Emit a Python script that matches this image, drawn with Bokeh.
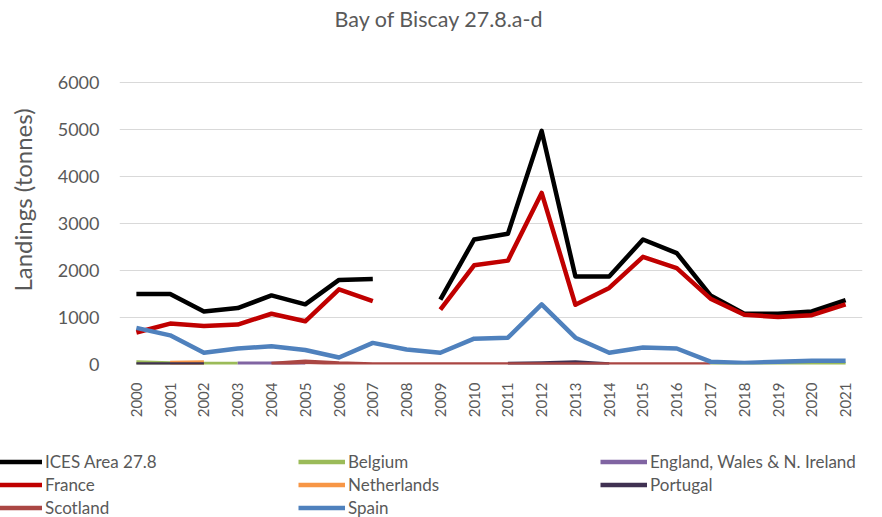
import math
from bokeh.plotting import figure
from bokeh.layouts import column
from bokeh.models import (ColumnDataSource, FactorRange, Range1d, Legend, LegendItem, Title,
                          FixedTicker)
from bokeh.embed import file_html
from bokeh.resources import INLINE

NaN = float("nan")

years = [str(y) for y in range(2000, 2022)]
yticks = [0, 1000, 2000, 3000, 4000, 5000, 6000]
ices = [1500, 1500, 1130, 1200, 1470, 1280, 1800, 1820, NaN, 1380, 2660, 2780,
        4970, 1870, 1870, 2660, 2370, 1470, 1080, 1080, 1130, 1370]
france = [680, 870, 820, 850, 1080, 920, 1600, 1350, NaN, 1170, 2110, 2210,
          3650, 1270, 1630, 2290, 2050, 1400, 1060, 1010, 1050, 1280]
spain = [780, 620, 250, 340, 390, 310, 150, 460, 320, 250, 550, 570,
         1280, 570, 250, 360, 340, 60, 30, 60, 80, 80]
belgium = [40, 20, 10, 10, NaN, NaN, NaN, NaN, NaN, NaN, NaN, NaN,
           NaN, NaN, NaN, NaN, NaN, 5, 5, 5, 10, 10]
netherlands = [NaN, 30, 40, NaN, NaN, NaN, NaN, NaN, NaN, NaN, NaN, NaN,
               NaN, NaN, NaN, NaN, NaN, NaN, NaN, NaN, NaN, NaN]
england = [NaN, NaN, NaN, 15, 15, 10, NaN, NaN, NaN, NaN, NaN, NaN,
           NaN, NaN, NaN, NaN, NaN, NaN, NaN, NaN, NaN, NaN]
portugal = [0, 0, 0, NaN, NaN, NaN, NaN, NaN, NaN, NaN, NaN, 10,
            20, 40, 0, NaN, NaN, NaN, NaN, NaN, NaN, NaN]
scotland = [NaN, NaN, NaN, NaN, 10, 60, 20, 0, 0, 0, 0, 0,
            0, 0, 0, 0, 0, 0, NaN, NaN, NaN, NaN]

series = [
    ("ICES Area 27.8", ices, "#000000"),
    ("Belgium", belgium, "#9BBB59"),
    ("England, Wales & N. Ireland", england, "#8064A2"),
    ("France", france, "#C00000"),
    ("Netherlands", netherlands, "#F79646"),
    ("Portugal", portugal, "#403152"),
    ("Scotland", scotland, "#AA4643"),
    ("Spain", spain, "#4F81BD"),
]

FONT = "Lato"
GREY = "#595959"

p = figure(width=882, height=440, x_range=FactorRange(*years), y_range=Range1d(0, 7000),
           output_backend="svg", toolbar_location=None,
           min_border_left=119, min_border_right=20, min_border_top=33, min_border_bottom=76)
p.outline_line_color = None
p.background_fill_color = "white"
p.border_fill_color = "white"

# legend strip below the chart (its lines sit outside its visible y window)
leg = figure(width=882, height=77, x_range=FactorRange(*years), y_range=Range1d(100000, 200000),
             output_backend="svg", toolbar_location=None, frame_align=False,
             min_border_left=0, min_border_right=0, min_border_top=0, min_border_bottom=0)
leg.axis.visible = False
leg.grid.visible = False
leg.outline_line_color = None

leg_r = {}
for name, vals, col in series:
    src = ColumnDataSource(dict(x=years, y=vals))
    p.line("x", "y", source=src, line_color=col, line_width=4.5, line_join="round")
    leg_r[name] = leg.line("x", "y", source=src, line_color=col, line_width=4.5)

# axes
p.yaxis.ticker = FixedTicker(ticks=yticks)
p.yaxis.axis_line_color = None
p.yaxis.major_tick_line_color = None
p.yaxis.minor_tick_line_color = None
p.yaxis.major_label_text_font = FONT
p.yaxis.major_label_text_font_size = "18px"
p.yaxis.major_label_text_color = GREY
p.yaxis.major_label_standoff = 14
p.yaxis.axis_label = "Landings (tonnes)"
p.yaxis.axis_label_text_font = FONT
p.yaxis.axis_label_text_font_size = "24px"
p.yaxis.axis_label_text_font_style = "normal"
p.yaxis.axis_label_text_color = GREY
p.yaxis.axis_label_standoff = 18

p.xaxis.axis_line_color = None
p.xaxis.major_tick_line_color = None
p.xaxis.minor_tick_line_color = None
p.xaxis.major_label_orientation = math.pi / 2
p.xaxis.major_label_text_font = FONT
p.xaxis.major_label_text_font_size = "15px"
p.xaxis.major_label_text_color = GREY
p.xaxis.major_label_standoff = 12

p.xgrid.grid_line_color = None
p.ygrid.grid_line_color = "#D9D9D9"
p.ygrid.grid_line_width = 1

p.title = Title(text="Bay of Biscay 27.8.a-d", align="left", offset=215,
                text_font=FONT, text_font_size="21.5px", text_font_style="normal",
                text_color=GREY, standoff=7)

cols = [
    (["ICES Area 27.8", "France", "Scotland"], -5),
    (["Belgium", "Netherlands", "Spain"], 298),
    (["England, Wales & N. Ireland", "Portugal"], 600),
]
for names, xoff in cols:
    items = [LegendItem(label=n, renderers=[leg_r[n]]) for n in names]
    h = 23 * len(names)
    lg = Legend(items=items, location=(xoff, 77 - 10 - h),
                orientation="vertical", glyph_width=47, glyph_height=23,
                label_height=23, spacing=0, padding=0, margin=0,
                label_standoff=3, label_text_font=FONT, label_text_font_size="17px",
                label_text_color=GREY, border_line_color=None,
                background_fill_alpha=0)
    leg.add_layout(lg, "center")

open("out.html", "w").write(file_html(column(p, leg, spacing=0), INLINE))
